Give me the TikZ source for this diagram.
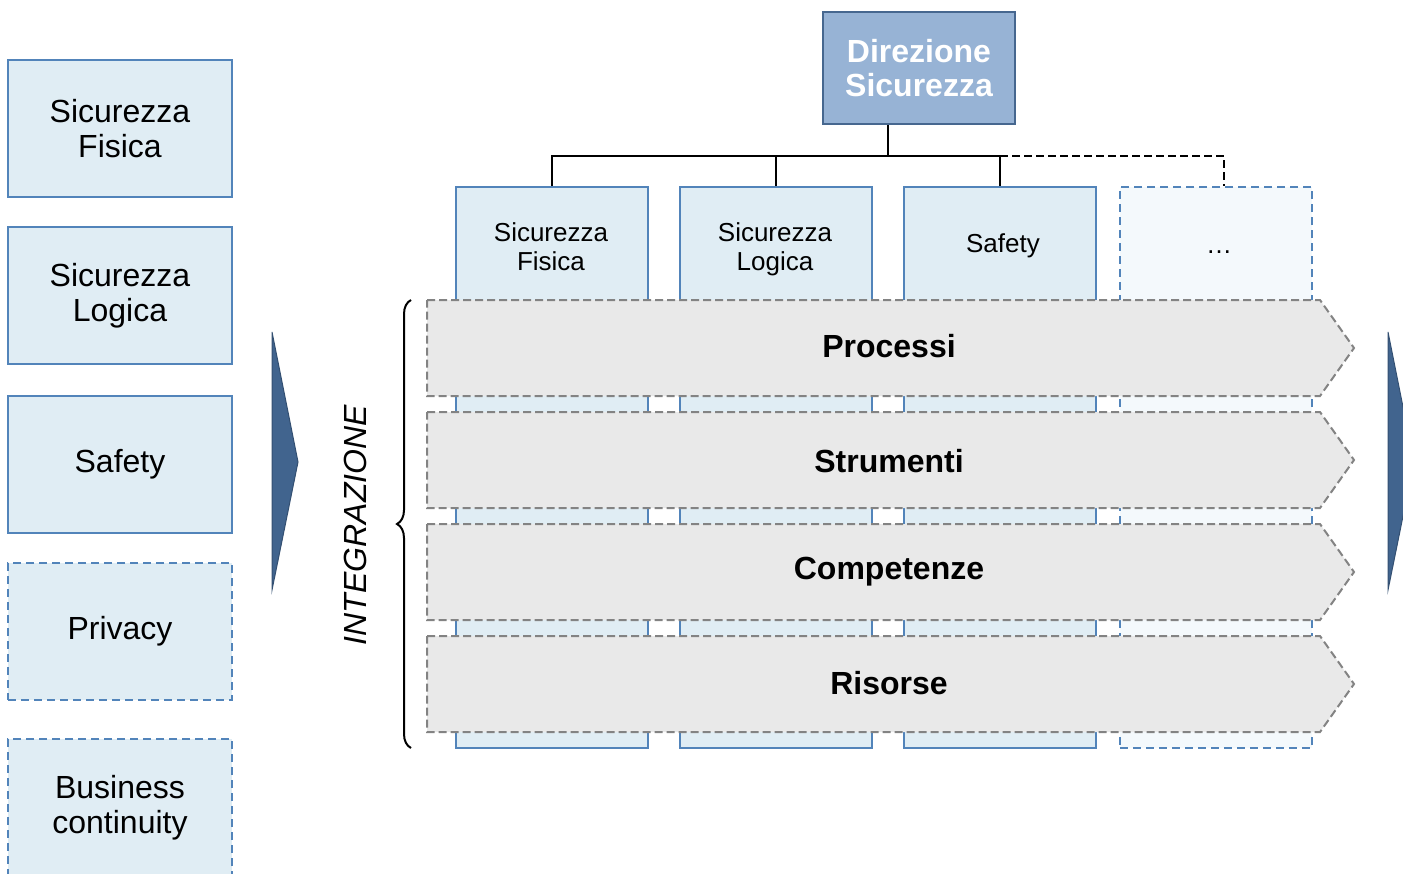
\documentclass[tikz,border=0pt]{standalone}
\usepackage{fontspec}
\setmainfont{Liberation Sans}
\usetikzlibrary{positioning,decorations.pathreplacing}

\definecolor{boxfill}{HTML}{E0EDF4}
\definecolor{boxline}{HTML}{5284BA}
\definecolor{palefill}{HTML}{F4F9FC}
\definecolor{headfill}{HTML}{97B3D5}
\definecolor{headline}{HTML}{46678F}
\definecolor{rowfill}{HTML}{E9E9E9}
\definecolor{rowline}{HTML}{838383}
\definecolor{arrowblue}{HTML}{41648E}

\begin{document}
\begin{tikzpicture}[x=0.5pt,y=-0.5pt,line width=1pt,
  sidebox/.style={draw=boxline,fill=boxfill,minimum width=112pt,minimum height=68.5pt,inner sep=0pt,align=center,font=\fontsize{16}{17.5}\selectfont},
  sideopt/.style={sidebox,dash pattern=on 4pt off 2.5pt},
  colbox/.style={draw=boxline,fill=boxfill,minimum width=96pt,minimum height=280.5pt,inner sep=0pt},
  colopt/.style={colbox,fill=palefill,dash pattern=on 4pt off 2.5pt},
  coltext/.style={align=center,inner sep=0pt,font=\fontsize{13}{14.5}\selectfont},
  headbox/.style={draw=headline,fill=headfill,minimum width=96pt,minimum height=56pt,inner sep=0pt,align=center,text=white,font=\bfseries\fontsize{16}{17}\selectfont},
  chevron/.style={draw=rowline,fill=rowfill,dash pattern=on 4pt off 2pt},
  rowtext/.style={inner sep=0pt,text height=11.5pt,text depth=0pt,font=\bfseries\fontsize{16}{18}\selectfont},
  bigarrow/.style={fill=arrowblue,draw=arrowblue!80!black,line width=0.5pt}]
  \useasboundingbox (0,0) rectangle (1403,873);

  % single functions on the left
  \node[sidebox] (sfis) at (120,128.5) {Sicurezza\\Fisica};
  \node[sidebox] (slog) at (120,295.5) {Sicurezza\\Logica};
  \node[sidebox] (ssaf) at (120,464.5) {Safety};
  \node[sideopt] (spriv) at (120,631.5) {Privacy};
  \node[sideopt] (sbc) at (120,807.5) {Business\\continuity};

  \draw[bigarrow] (272,332) -- (298,462) -- (272,590) -- cycle;
  \draw[bigarrow] (1388,332) -- (1414,462) -- (1388,590) -- cycle;

  % direction and its columns
  \node[headbox] (dir) at (919,68) {Direzione\\Sicurezza};
  \node[colbox] (cfis) at (552,467.5) {};
  \node[colbox] (clog) at (776,467.5) {};
  \node[colbox] (csaf) at (1000,467.5) {};
  \node[colopt] (calt) at (1216,467.5) {};
  \node[coltext] (tfis) at (551,246.5) {Sicurezza\\Fisica};
  \node[coltext] (tlog) at (775,249.5) {Sicurezza\\Logica};
  \node[coltext] (tsaf) at (1003,246) {Safety};
  \node[coltext] (talt) at (1219,252) {\dots};

  \coordinate (bus) at (888,156);
  \draw (dir.south -| bus) -- (bus);
  \draw (cfis.north) |- (bus) -| (csaf.north);
  \draw (clog.north) -- (clog.north |- bus);
  \draw[dash pattern=on 4pt off 2pt] (csaf.north |- bus) -| ([xshift=4pt]calt.north);

  % integration layers across the columns
  \draw[chevron] (427,300) -- (1320,300) -- (1354,348) -- (1320,396) -- (427,396) -- cycle;
  \draw[chevron] (427,412) -- (1320,412) -- (1354,460) -- (1320,508) -- (427,508) -- cycle;
  \draw[chevron] (427,524) -- (1320,524) -- (1354,572) -- (1320,620) -- (427,620) -- cycle;
  \draw[chevron] (427,636) -- (1320,636) -- (1354,684) -- (1320,732) -- (427,732) -- cycle;
  \node[rowtext] (proc) at (889,346) {Processi};
  \node[rowtext] (strum) at (889,461) {Strumenti};
  \node[rowtext] (comp) at (889,568) {Competenze};
  \node[rowtext] (ris) at (889,683) {Risorse};

  \draw[decorate,decoration={brace,amplitude=7pt}] (411,748) -- (411,300);
  \node[rotate=90,inner sep=0pt,font=\itshape\fontsize{16}{18}\selectfont] (integ) at (355,525) {INTEGRAZIONE};
\end{tikzpicture}
\end{document}
